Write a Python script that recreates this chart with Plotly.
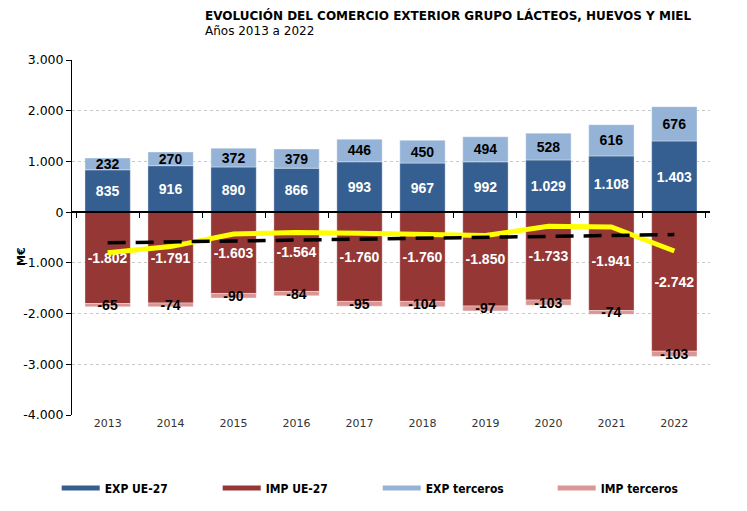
import plotly.graph_objects as go

years = ["2013", "2014", "2015", "2016", "2017", "2018", "2019", "2020", "2021", "2022"]
exp_ue = [835, 916, 890, 866, 993, 967, 992, 1029, 1108, 1403]
exp_terceros = [232, 270, 372, 379, 446, 450, 494, 528, 616, 676]
imp_ue = [-1802, -1791, -1603, -1564, -1760, -1760, -1850, -1733, -1941, -2742]
imp_terceros = [-65, -74, -90, -84, -95, -104, -97, -103, -74, -103]
saldo = [-800, -679, -431, -403, -416, -447, -461, -279, -291, -766]
tendencia = [-605, -585, -565, -548, -530, -512, -495, -478, -460, -442]

y_tick_vals = [3000, 2000, 1000, 0, -1000, -2000, -3000, -4000]
y_tick_text = ["3.000", "2.000", "1.000", "0", "-1.000", "-2.000", "-3.000", "-4.000"]

series_names = ["EXP UE-27", "IMP UE-27", "EXP terceros", "IMP terceros"]

C_EXP_UE = "#365F91"
C_IMP_UE = "#953735"
C_EXP_T = "#95B3D7"
C_IMP_T = "#D99694"


def fmt(v):
    return f"{v:,}".replace(",", ".")


label_font = dict(family="Liberation Sans, Arial", size=14, weight="bold")

fig = go.Figure()


def add_bar(vals, color, txtcolor):
    fig.add_trace(go.Bar(
        x=years, y=vals, marker=dict(color=color, line=dict(width=0.6, color="rgba(255,255,255,0.6)")),
        text=[fmt(v) for v in vals], textposition="inside", insidetextanchor="middle",
        textangle=0, constraintext="none",
        textfont=dict(color=txtcolor, **label_font), showlegend=False, cliponaxis=False,
        hoverinfo="skip",
    ))


add_bar(exp_ue, C_EXP_UE, "white")
add_bar(exp_terceros, C_EXP_T, "black")
add_bar(imp_ue, C_IMP_UE, "white")
add_bar(imp_terceros, C_IMP_T, "black")

fig.add_trace(go.Scatter(x=years, y=saldo, mode="lines",
                         line=dict(color="#FFFF00", width=5), showlegend=False, hoverinfo="skip"))
fig.add_trace(go.Scatter(x=years, y=tendencia, mode="lines",
                         line=dict(color="black", width=3.5, dash="18px,10px"), showlegend=False, hoverinfo="skip"))

# zero-line axis with boundary ticks
fig.add_trace(go.Scatter(x=years, y=[None] * len(years), xaxis="x2", showlegend=False, hoverinfo="skip"))

# legend entries, each in its own legend box
legend_ids = ["legend", "legend2", "legend3", "legend4"]
sym_starts = [62, 223, 383, 558]
legend_layout = {}
for name, color, lid, sx in zip(series_names, [C_EXP_UE, C_IMP_UE, C_EXP_T, C_IMP_T], legend_ids, sym_starts):
    fig.add_trace(go.Scatter(x=[None], y=[None], mode="lines", name=name, legend=lid,
                             line=dict(color=color, width=5)))
    legend_layout[lid] = dict(orientation="h", x=(sx - 5.3 - 72) / 638, xanchor="left",
                              y=-73 / 355, yanchor="middle", itemwidth=38,
                              bgcolor="rgba(0,0,0,0)",
                              font=dict(family="DejaVu Sans Condensed", size=12, color="black",
                                        weight="bold"))

fig.update_layout(
    width=747, height=511,
    margin=dict(l=72, r=37, t=60, b=96, autoexpand=False),
    paper_bgcolor="white", plot_bgcolor="white",
    barmode="relative", bargap=0.28,
    uniformtext=dict(minsize=14, mode="show"),
    font=dict(family="DejaVu Sans", size=12, color="black"),
    showlegend=True,
    xaxis=dict(showline=False, ticks="", showgrid=False, zeroline=False,
               tickfont=dict(family="DejaVu Sans", size=11, color="#333333")),
    xaxis2=dict(overlaying="x", matches="x", anchor="free", position=4 / 7, side="bottom",
                showline=True, linecolor="black", linewidth=1.5, ticks="outside",
                tickson="boundaries", ticklen=5, tickcolor="black", showticklabels=False,
                showgrid=False, zeroline=False),
    yaxis=dict(range=[-4000, 3000], tickvals=y_tick_vals, ticktext=y_tick_text,
               showline=True, linecolor="black", linewidth=1, ticks="outside", ticklen=5,
               tickcolor="black", showgrid=True, gridcolor="#C8C8C8", griddash="dot",
               gridwidth=1, zeroline=False,
               tickfont=dict(family="DejaVu Sans", size=12.5, color="black")),
    annotations=[
        dict(text="<b>EVOLUCIÓN DEL COMERCIO EXTERIOR GRUPO LÁCTEOS, HUEVOS Y MIEL</b>",
             xref="paper", yref="paper", x=(203 - 72) / 638, y=(415 - 16) / 355,
             xanchor="left", yanchor="middle", showarrow=False,
             font=dict(family="DejaVu Sans", size=12, color="black")),
        dict(text="Años 2013 a 2022",
             xref="paper", yref="paper", x=(203 - 72) / 638, y=(415 - 31) / 355,
             xanchor="left", yanchor="middle", showarrow=False,
             font=dict(family="DejaVu Sans", size=12, color="black")),
        dict(text="<b>M€</b>", xref="paper", yref="paper", x=(22 - 72) / 638, y=(415 - 256) / 355,
             xanchor="center", yanchor="middle", showarrow=False, textangle=-90,
             font=dict(family="DejaVu Sans", size=11, color="black")),
    ],
    **legend_layout,
)

fig.write_html("out.html")
